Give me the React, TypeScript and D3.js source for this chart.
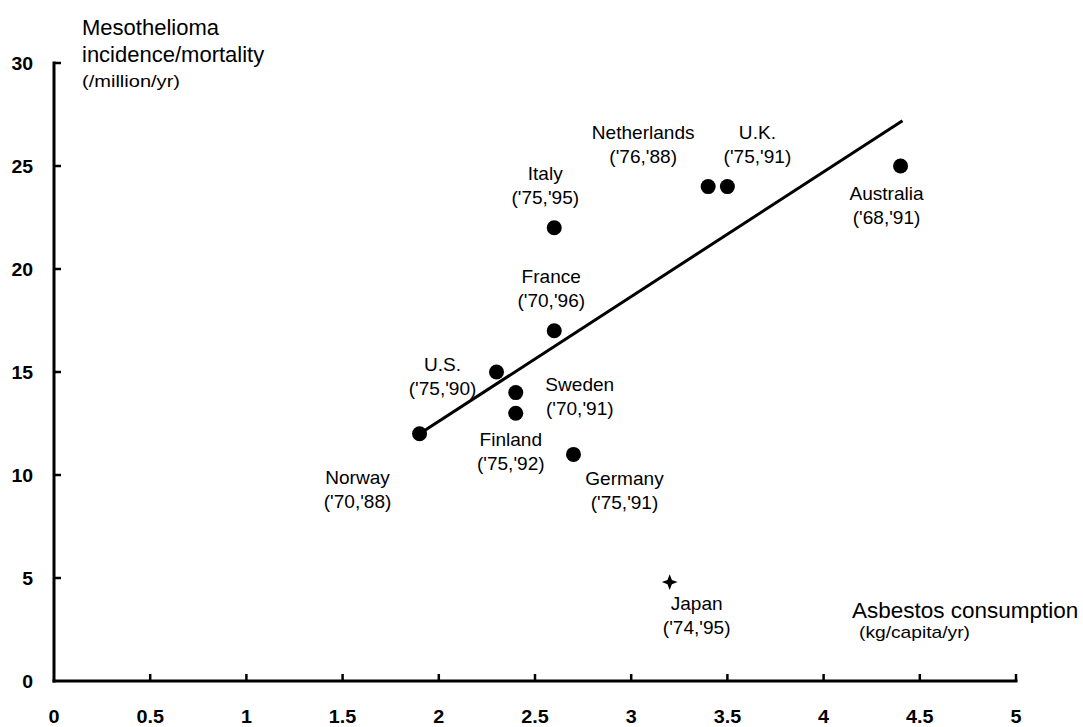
import React from "react";
import * as d3 from "d3";

// ---- data ----
const countries = ["Norway", "U.S.", "Sweden", "Finland", "France", "Italy", "Germany", "Netherlands", "U.K.", "Australia"];
const periods = ["('70,'88)", "('75,'90)", "('70,'91)", "('75,'92)", "('70,'96)", "('75,'95)", "('75,'91)", "('76,'88)", "('75,'91)", "('68,'91)"];
const consumption = [1.9, 2.3, 2.4, 2.4, 2.6, 2.6, 2.7, 3.4, 3.5, 4.4];
const mesothelioma = [12, 15, 14, 13, 17, 22, 11, 24, 24, 25];

const outlierName = "Japan";
const outlierPeriod = "('74,'95)";
const outlierConsumption = 3.2;
const outlierMesothelioma = 4.8;

const fitX = [1.9, 4.41];
const fitY = [12, 27.2];

const xTicks = [0, 0.5, 1, 1.5, 2, 2.5, 3, 3.5, 4, 4.5, 5];
const yTicks = [0, 5, 10, 15, 20, 25, 30];

// ---- layout (label offsets in px relative to the marker) ----
const labelOffsets: [number, number][] = [
  [-62, 50], [-54, -1], [64, -2], [-5, 33], [-3, -48], [-9, -48], [51, 31], [-65, -48], [30, -48], [-14, 34],
];
const outlierOffset: [number, number] = [27, 28];

const W = 1083, H = 727;
const FONT = "'Liberation Sans', Arial, Helvetica, sans-serif";

const star4: d3.SymbolType = {
  draw(ctx, size) {
    const r = Math.sqrt(size) * 0.75;
    const k = r * 0.28;
    ctx.moveTo(0, -r);
    ctx.lineTo(k, -k);
    ctx.lineTo(r, 0);
    ctx.lineTo(k, k);
    ctx.lineTo(0, r);
    ctx.lineTo(-k, k);
    ctx.lineTo(-r, 0);
    ctx.lineTo(-k, -k);
    ctx.closePath();
  },
};

function SText({ x, y, sx = 1.06, children, ...rest }: any) {
  return (
    <text transform={`translate(${x},${y}) scale(${sx},1)`} {...rest}>{children}</text>
  );
}

export default function App() {
  const x = d3.scaleLinear().domain([0, 5]).range([54, 1016]);
  const y = d3.scaleLinear().domain([0, 30]).range([681, 63]);
  const line = d3.line<number>().x((_, i) => x(fitX[i])).y((_, i) => y(fitY[i]));
  const starPath = d3.symbol().type(star4).size(110)() || "";

  return (
    <svg width={W} height={H} style={{ position: "absolute", left: 0, top: 0, background: "#fff" }} fontFamily={FONT}>
      <rect width={W} height={H} fill="#fff" />
      {/* axes */}
      <line x1={x(0)} x2={x(0)} y1={y(30) - 1.5} y2={y(0) + 1.5} stroke="#000" strokeWidth={3} />
      <line x1={x(0) - 1.5} x2={x(5) + 1.5} y1={y(0)} y2={y(0)} stroke="#000" strokeWidth={3} />
      {yTicks.map((t) => (
        <g key={"y" + t}>
          {t > 0 && <line x1={x(0)} x2={x(0) + 7} y1={y(t)} y2={y(t)} stroke="#000" strokeWidth={2.5} />}
          <SText x={33} y={y(t) + 6.5} sx={1.08} textAnchor="end" fontSize={18} fontWeight="bold">{t}</SText>
        </g>
      ))}
      {xTicks.map((t) => (
        <g key={"x" + t}>
          {t > 0 && <line x1={x(t)} x2={x(t)} y1={y(0)} y2={y(0) - 7} stroke="#000" strokeWidth={2.5} />}
          <SText x={x(t)} y={723} sx={1.1} textAnchor="middle" fontSize={18} fontWeight="bold">{t}</SText>
        </g>
      ))}

      {/* axis titles */}
      <text x={82} y={35} fontSize={22}>Mesothelioma</text>
      <text x={82} y={62} fontSize={22}>incidence/mortality</text>
      <text x={82} y={87} fontSize={17} textLength={98} lengthAdjust="spacingAndGlyphs">(/million/yr)</text>
      <text x={852} y={618} fontSize={22.5}>Asbestos consumption</text>
      <text x={859} y={638} fontSize={17} textLength={111} lengthAdjust="spacingAndGlyphs">(kg/capita/yr)</text>

      {/* regression line */}
      <path d={line(fitX) || ""} fill="none" stroke="#000" strokeWidth={3} />

      {/* points */}
      {countries.map((c, i) => (
        <g key={c}>
          <circle cx={x(consumption[i])} cy={y(mesothelioma[i])} r={7.5} fill="#000" />
          <SText x={x(consumption[i]) + labelOffsets[i][0]} y={y(mesothelioma[i]) + labelOffsets[i][1]} textAnchor="middle" fontSize={18}>{c}</SText>
          <SText x={x(consumption[i]) + labelOffsets[i][0]} y={y(mesothelioma[i]) + labelOffsets[i][1] + 24} textAnchor="middle" fontSize={18}>{periods[i]}</SText>
        </g>
      ))}

      {/* outlier */}
      <path d={starPath} transform={`translate(${x(outlierConsumption)},${y(outlierMesothelioma)})`} fill="#000" />
      <SText x={x(outlierConsumption) + outlierOffset[0]} y={y(outlierMesothelioma) + outlierOffset[1]} textAnchor="middle" fontSize={18}>{outlierName}</SText>
      <SText x={x(outlierConsumption) + outlierOffset[0]} y={y(outlierMesothelioma) + outlierOffset[1] + 24} textAnchor="middle" fontSize={18}>{outlierPeriod}</SText>
    </svg>
  );
}
